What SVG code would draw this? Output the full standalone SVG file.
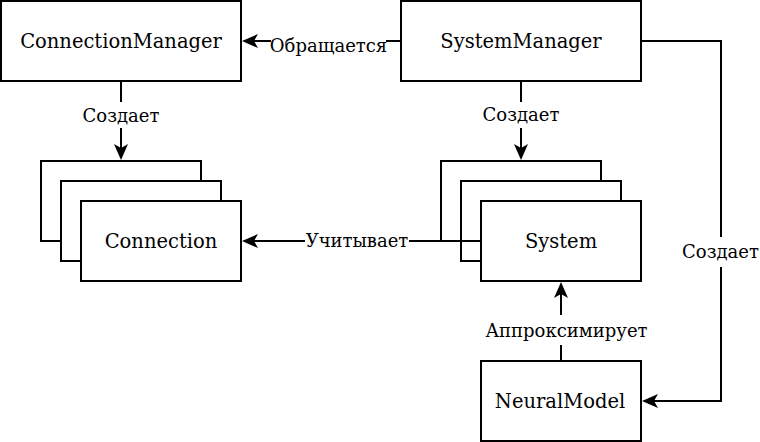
<svg xmlns="http://www.w3.org/2000/svg" width="760" height="442" viewBox="0 0 760 442">
<style>
.box{fill:#fff;stroke:#000;stroke-width:2}
.nt{font-family:'DejaVu Serif','Liberation Serif',serif;font-size:19.5px;fill:#000;text-anchor:middle}
.lt{font-family:'DejaVu Serif','Liberation Serif',serif;font-size:18px;fill:#000;text-anchor:middle}
.edge{fill:none;stroke:#000;stroke-width:2}
.bg{fill:#fff}
</style>
<defs>
<marker id="arr" markerUnits="userSpaceOnUse" markerWidth="16" markerHeight="14" viewBox="0 0 16 14" refX="12" refY="7" orient="auto">
<path d="M16,7 L0,0 L4,7 L0,14 Z" fill="#000"/>
</marker>
</defs>
<rect width="760" height="442" fill="#fff"/>
<g id="ConnectionManager">
<rect class="box" x="1" y="1" width="240" height="80"/>
<text class="nt" x="121" y="48">ConnectionManager</text>
</g>
<g id="SystemManager">
<rect class="box" x="401" y="1" width="240" height="80"/>
<text class="nt" x="521" y="48">SystemManager</text>
</g>
<g id="Connection">
<rect class="box" x="41" y="161" width="160" height="80"/>
<rect class="box" x="61" y="181" width="160" height="80"/>
<rect class="box" x="81" y="201" width="160" height="80"/>
<text class="nt" x="161" y="248">Connection</text>
</g>
<g id="System">
<rect class="box" x="441" y="161" width="160" height="80"/>
<rect class="box" x="461" y="181" width="160" height="80"/>
<rect class="box" x="481" y="201" width="160" height="80"/>
<text class="nt" x="561" y="248">System</text>
</g>
<g id="NeuralModel">
<rect class="box" x="481" y="361" width="160" height="80"/>
<text class="nt" x="560" y="408">NeuralModel</text>
</g>
<g id="connectors">
<path class="edge" d="M401,41 H246" marker-end="url(#arr)"/>
<rect class="bg" x="271" y="30" width="115" height="30"/>
<text class="lt" x="328.5" y="52">Обращается</text>

<path class="edge" d="M121,81 V156" marker-end="url(#arr)"/>
<rect class="bg" x="88" y="102" width="66" height="26"/>
<text class="lt" x="121" y="122">Создает</text>

<path class="edge" d="M521,81 V156" marker-end="url(#arr)"/>
<rect class="bg" x="488" y="102" width="66" height="26"/>
<text class="lt" x="521" y="121">Создает</text>

<path class="edge" d="M481,241 H246" marker-end="url(#arr)"/>
<rect class="bg" x="305" y="230" width="104" height="24"/>
<text class="lt" x="357" y="247">Учитывает</text>

<path class="edge" d="M561,361 V286" marker-end="url(#arr)"/>
<rect class="bg" x="482" y="315" width="170" height="30"/>
<text class="lt" x="566.5" y="337">Аппроксимирует</text>

<path class="edge" d="M641,41 H721 V401 H646" marker-end="url(#arr)"/>
<rect class="bg" x="684" y="237" width="74" height="30"/>
<text class="lt" x="720.5" y="258">Создает</text>
</g>
</svg>
